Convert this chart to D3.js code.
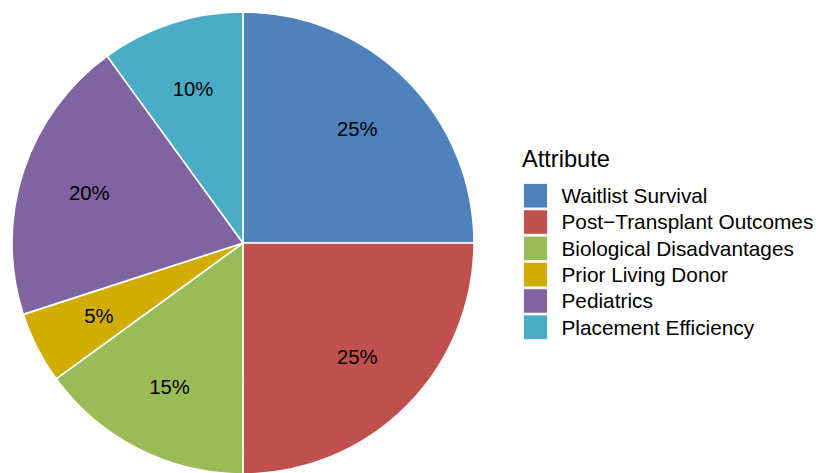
<!DOCTYPE html>
<html><head><meta charset="utf-8">
<script src="https://cdn.jsdelivr.net/npm/d3@7"></script>
<style>body{margin:0;background:#fff}svg{display:block}text{font-family:"Liberation Sans",Arial,sans-serif}</style>
</head><body>
<svg id="c" width="816" height="473"></svg>
<script>
const categories = ["Waitlist Survival","Post\u2212Transplant Outcomes","Biological Disadvantages","Prior Living Donor","Pediatrics","Placement Efficiency"];
const values = [25,25,15,5,20,10];
const colors = ["#4F81BD","#C0504D","#9BBB59","#D0AD00","#8064A2","#4BACC6"];
const legendTitle = "Attribute";

const svg = d3.select("#c");
const cx = 243, cy = 243, R = 231;
const data = categories.map((c,i)=>({cat:c, val:values[i], col:colors[i]}));
const pie = d3.pie().value(d=>d.val).sort(null);
const arcs = pie(data);
const arc = d3.arc().innerRadius(0).outerRadius(R);
const labelArc = d3.arc().innerRadius(R*0.7).outerRadius(R*0.7);
const g = svg.append("g").attr("transform",`translate(${cx},${cy})`);
g.selectAll("path").data(arcs).join("path")
  .attr("d",arc).attr("fill",d=>d.data.col).attr("stroke","#fff").attr("stroke-width",1.6);
g.selectAll("text").data(arcs).join("text")
  .attr("transform",d=>`translate(${labelArc.centroid(d)})`)
  .attr("text-anchor","middle").attr("dominant-baseline","central")
  .attr("font-size",20.3).attr("fill","#000")
  .text(d=>d.data.val+"%");

const lg = svg.append("g");
lg.append("text").attr("x",522).attr("y",166.5).attr("font-size",23.6).attr("fill","#000").text(legendTitle);
const y0 = 183, step = 26.3;
const rows = lg.selectAll("g.row").data(data).join("g").attr("class","row")
  .attr("transform",(d,i)=>`translate(523,${y0+i*step})`);
rows.append("rect").attr("width",25).attr("height",25.5).attr("fill","#f4f4f4");
rows.append("rect").attr("x",1).attr("y",1).attr("width",23).attr("height",23.5).attr("fill",d=>d.col);
rows.append("text").attr("x",38.5).attr("y",12.6).attr("dominant-baseline","central")
  .attr("font-size",20.8).attr("fill","#000").text(d=>d.cat);
</script>
</body></html>
